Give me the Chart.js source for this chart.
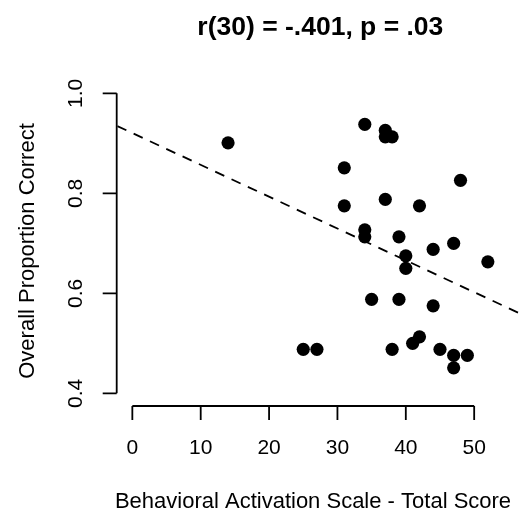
<!DOCTYPE html>
<html>
<head>
<meta charset="utf-8">
<script src="https://cdn.jsdelivr.net/npm/chart.js@4/dist/chart.umd.min.js"></script>
<style>
  html, body { margin: 0; padding: 0; background: #fff; }
  #wrap { width: 530px; height: 514px; }
</style>
</head>
<body>
<div id="wrap"><canvas id="scatter" width="530" height="514"></canvas></div>
<script>
// ── data ──────────────────────────────────────────────────────────────────
const basScore = [14, 34, 37, 37, 38, 31, 48, 31, 37, 42, 34, 34, 39, 44, 47,
                  40, 40, 52, 35, 39, 44, 25, 27, 38, 41, 42, 45, 47, 49, 47];
const propCorrect = [0.901, 0.938, 0.926, 0.913, 0.913, 0.851, 0.826, 0.775, 0.788, 0.775,
                     0.727, 0.713, 0.713, 0.688, 0.700, 0.675, 0.650, 0.663, 0.588, 0.588,
                     0.575, 0.488, 0.488, 0.488, 0.500, 0.513, 0.488, 0.476, 0.476, 0.451];
const xTicks = [0, 10, 20, 30, 40, 50];
const yTicks = [0.4, 0.6, 0.8, 1.0];
const yTickLabels = ['0.4', '0.6', '0.8', '1.0'];
const fitIntercept = 0.9205;
const fitSlope = -0.006366;
const xLimits = [-2.2, 57.2];
const yLimits = [0.376, 1.024];

const TITLE = 'r(30) = -.401, p = .03';
const X_LABEL = 'Behavioral Activation Scale - Total Score';
const Y_LABEL = 'Overall Proportion Correct';
const FONT = '"Liberation Sans", Arial, Helvetica, sans-serif';

const points = basScore.map((x, i) => ({ x, y: propCorrect[i] }));
const fitLine = xLimits.map(x => ({ x, y: fitIntercept + fitSlope * x }));

// ── R-style axes, drawn off the chart area ───────────────────────────────
const rAxes = {
  id: 'rAxes',
  afterDraw(chart) {
    const { ctx, chartArea, scales } = chart;
    const xs = scales.x, ys = scales.y;
    const axisY = chartArea.bottom + 0.7;
    const axisX = chartArea.left - 0.6;
    ctx.save();
    ctx.strokeStyle = '#000';
    ctx.fillStyle = '#000';
    ctx.lineWidth = 1.8;
    ctx.lineCap = 'butt';

    // x axis
    const x0 = xs.getPixelForValue(xTicks[0]);
    const x1 = xs.getPixelForValue(xTicks[xTicks.length - 1]);
    ctx.beginPath();
    ctx.moveTo(x0, axisY); ctx.lineTo(x1, axisY);
    xTicks.forEach(t => {
      const px = xs.getPixelForValue(t);
      ctx.moveTo(px, axisY); ctx.lineTo(px, axisY + 14);
    });
    ctx.stroke();
    ctx.font = '21px ' + FONT;
    ctx.textAlign = 'center';
    ctx.textBaseline = 'alphabetic';
    xTicks.forEach(t => ctx.fillText(String(t), xs.getPixelForValue(t), 454));

    // y axis
    const y0 = ys.getPixelForValue(yTicks[0]);
    const y1 = ys.getPixelForValue(yTicks[yTicks.length - 1]);
    ctx.beginPath();
    ctx.moveTo(axisX, y0); ctx.lineTo(axisX, y1);
    yTicks.forEach(t => {
      const py = ys.getPixelForValue(t);
      ctx.moveTo(axisX, py); ctx.lineTo(axisX - 14, py);
    });
    // minor tick halfway, as R draws them at 0.1 steps here
    ctx.stroke();
    yTicks.forEach((t, i) => {
      const py = ys.getPixelForValue(t);
      ctx.save();
      ctx.translate(82, py);
      ctx.rotate(-Math.PI / 2);
      ctx.fillText(yTickLabels[i], 0, 0);
      ctx.restore();
    });

    // axis titles
    ctx.font = '22px ' + FONT;
    ctx.fillText(X_LABEL, 313, 508);
    ctx.save();
    ctx.translate(33.5, 251);
    ctx.rotate(-Math.PI / 2);
    ctx.fillText(Y_LABEL, 0, 0);
    ctx.restore();

    // main title
    ctx.font = 'bold 26.5px ' + FONT;
    ctx.fillText(TITLE, (chartArea.left + chartArea.right) / 2, 35);
    ctx.restore();
  }
};

new Chart(document.getElementById('scatter'), {
  type: 'scatter',
  data: {
    datasets: [
      {
        label: 'participants',
        data: points,
        pointRadius: 6.6,
        pointHoverRadius: 6.6,
        pointBorderWidth: 0,
        backgroundColor: '#000',
        borderColor: '#000',
      },
      {
        type: 'line',
        label: 'fit',
        data: fitLine,
        borderColor: '#000',
        borderWidth: 1.8,
        borderDash: [10, 8],
        pointRadius: 0,
        fill: false,
      },
    ],
  },
  options: {
    responsive: false,
    animation: false,
    events: [],
    layout: { padding: { left: 117.3, right: 6.4, top: 81.3, bottom: 108.7 } },
    plugins: {
      legend: { display: false },
      tooltip: { enabled: false },
    },
    scales: {
      x: { type: 'linear', min: xLimits[0], max: xLimits[1], display: false },
      y: { type: 'linear', min: yLimits[0], max: yLimits[1], display: false },
    },
  },
  plugins: [rAxes],
});
</script>
</body>
</html>
